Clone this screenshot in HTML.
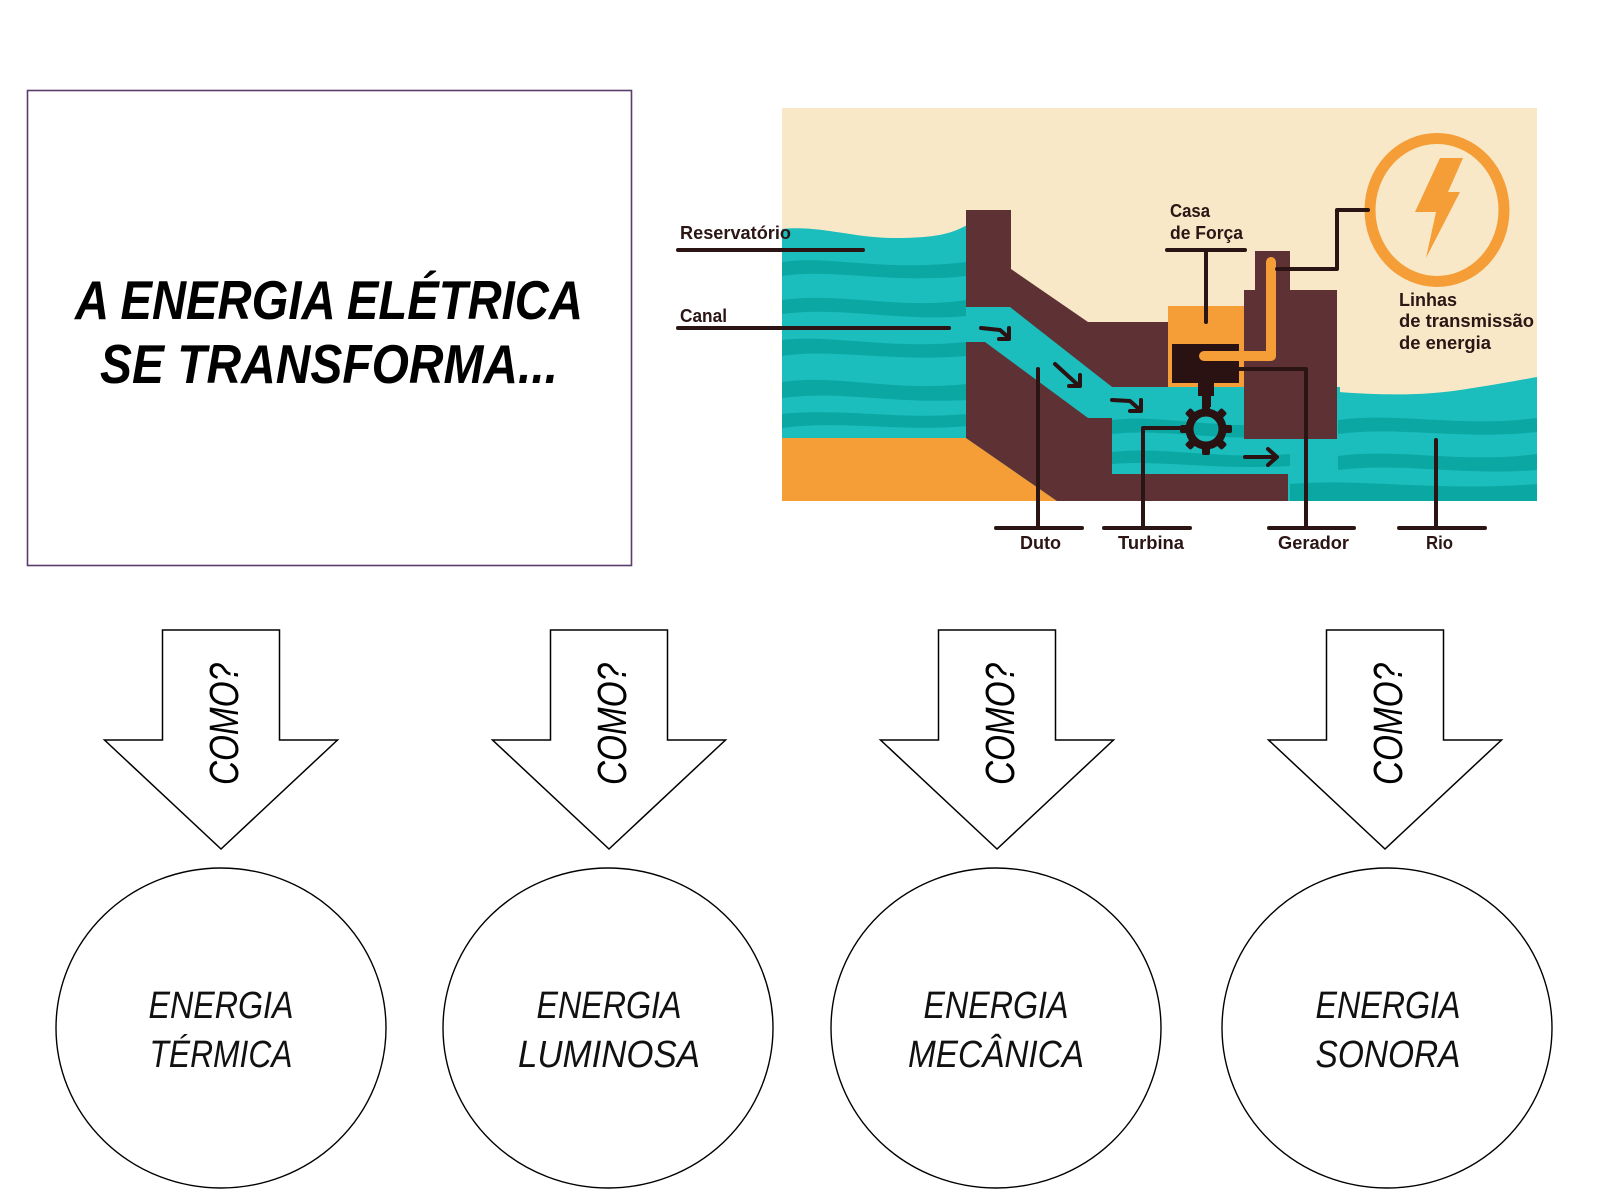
<!DOCTYPE html>
<html>
<head>
<meta charset="utf-8">
<style>
html,body{margin:0;padding:0;background:#fff;}
svg{display:block;}
.lbl{font-family:"Liberation Sans",sans-serif;font-weight:bold;font-size:18px;fill:#2b1515;}
.como{font-family:"Liberation Sans",sans-serif;font-style:italic;font-size:41px;fill:#000;}
.en{font-family:"Liberation Sans",sans-serif;font-style:italic;font-size:38px;fill:#111;}
.ttl{font-family:"Liberation Sans",sans-serif;font-style:italic;font-weight:bold;font-size:55px;fill:#000;}
</style>
</head>
<body>
<svg width="1600" height="1200" viewBox="0 0 1600 1200" xmlns="http://www.w3.org/2000/svg">
<rect x="0" y="0" width="1600" height="1200" fill="#fff"/>

<!-- Title box -->
<rect x="27.5" y="90.5" width="604" height="475" fill="#fff" stroke="#5b3d6b" stroke-width="1.6"/>
<text class="ttl" x="75" y="319" textLength="508" lengthAdjust="spacingAndGlyphs">A ENERGIA ELÉTRICA</text>
<text class="ttl" x="100" y="383" textLength="458" lengthAdjust="spacingAndGlyphs">SE TRANSFORMA...</text>

<!-- Illustration -->
<rect x="782" y="108" width="755" height="393" fill="#f8e8c7"/>
<!-- reservoir water -->
<path d="M782,229 C820,225 852,238 895,238 C930,238 950,235 967,225 L967,501 L782,501 Z" fill="#1bbdbd"/>
<g fill="#0ba7a3">
<path d="M782,262 C830,255 880,272 967,262 L967,276 C890,284 830,268 782,276 Z"/>
<path d="M782,300 C840,292 900,310 967,300 L967,316 C900,322 840,306 782,314 Z"/>
<path d="M782,340 C830,334 890,350 967,342 L967,356 C890,362 830,348 782,356 Z"/>
<path d="M782,382 C840,374 890,392 967,384 L967,400 C890,404 840,390 782,398 Z"/>
<path d="M782,414 C840,408 900,420 967,414 L967,426 C900,432 840,420 782,428 Z"/>
</g>
<!-- channel/middle water -->
<path d="M966,305 L1011,305 L1112,387 L1340,387 L1340,501 L966,501 Z" fill="#1bbdbd"/>
<g fill="#0ba7a3">
<path d="M1112,420 C1160,414 1220,430 1290,424 L1290,436 C1220,442 1160,428 1112,434 Z"/>
<path d="M1112,452 C1160,446 1220,460 1290,454 L1290,466 C1220,470 1160,460 1112,464 Z"/>
</g>
<!-- river -->
<path d="M1338,392 C1380,395 1420,396 1460,390 C1500,384 1520,380 1537,377 L1537,501 L1338,501 Z" fill="#1bbdbd"/>
<g fill="#0ba7a3">
<path d="M1338,420 C1400,412 1460,428 1537,418 L1537,432 C1460,440 1400,426 1338,434 Z"/>
<path d="M1338,456 C1400,448 1460,464 1537,454 L1537,470 C1460,476 1400,462 1338,470 Z"/>
<path d="M1290,484 C1360,478 1440,492 1537,484 L1537,501 L1290,501 Z"/>
</g>
<!-- orange ground -->
<path d="M782,438 L966,438 L1057,501 L782,501 Z" fill="#f59d36"/>
<!-- dam upper -->
<path d="M966,210 L1011,210 L1011,269 L1088,322 L1170,322 L1170,387 L1112,387 L1010,307 L966,307 Z" fill="#5e3234"/>
<!-- dam lower -->
<path d="M966,342 L985,342 L1088,418 L1112,418 L1112,474 L1288,474 L1288,501 L1057,501 L966,438 Z" fill="#5e3234"/>
<!-- power house orange -->
<rect x="1168" y="306" width="77" height="81" fill="#f59d36"/>
<!-- right building -->
<path d="M1255,251 L1290,251 L1290,290 L1337,290 L1337,439 L1244,439 L1244,290 L1255,290 Z" fill="#5e3234"/>
<!-- generator -->
<rect x="1172" y="344" width="67" height="39" fill="#2a1212"/>
<!-- pipe -->
<path d="M1204,356 L1271,356 L1271,262" fill="none" stroke="#f59d36" stroke-width="10" stroke-linecap="round" stroke-linejoin="round"/>
<!-- shaft -->
<rect x="1198" y="383" width="16" height="13" fill="#2a1212"/>
<rect x="1202" y="395" width="9" height="12" fill="#2a1212"/>
<!-- gear -->
<g transform="translate(1206,429)" fill="#2a1212">
<circle cx="0" cy="0" r="16.5" fill="none" stroke="#2a1212" stroke-width="8"/>
<g>
<rect x="-4" y="-26" width="8" height="9" rx="2"/>
<rect x="-4" y="17" width="8" height="9" rx="2"/>
<rect x="-26" y="-4" width="9" height="8" rx="2"/>
<rect x="17" y="-4" width="9" height="8" rx="2"/>
<rect x="-4" y="-26" width="8" height="9" rx="2" transform="rotate(45)"/>
<rect x="-4" y="-26" width="8" height="9" rx="2" transform="rotate(135)"/>
<rect x="-4" y="-26" width="8" height="9" rx="2" transform="rotate(225)"/>
<rect x="-4" y="-26" width="8" height="9" rx="2" transform="rotate(315)"/>
</g>
</g>
<!-- canal arrows -->
<g fill="none" stroke="#2a1212" stroke-width="4" stroke-linecap="round" stroke-linejoin="round">
<path d="M981,328 L1000,330 L1008,337"/>
<path d="M1009,328 L1009,339 L999,339"/>
<path d="M1055,364 L1078,385"/>
<path d="M1080,375 L1080,386 L1069,386"/>
<path d="M1112,400 L1130,401 L1139,409"/>
<path d="M1141,400 L1141,411 L1130,411"/>
<path d="M1245,457 L1276,457"/>
<path d="M1268,449 L1277,457 L1268,465"/>
</g>
<!-- orange ring + bolt -->
<ellipse cx="1437" cy="210" rx="67" ry="71.5" fill="none" stroke="#f59d36" stroke-width="11"/>
<path d="M1440,158 L1463,158 L1448,192 L1460,192 L1426,258 L1436,212 L1415,212 Z" fill="#f59d36"/>
<!-- leader lines -->
<g fill="none" stroke="#2a1414" stroke-width="4" stroke-linecap="round" stroke-linejoin="round">
<path d="M678,250 L863,250"/>
<path d="M678,328 L949,328"/>
<path d="M1167,250 L1245,250"/>
<path d="M1206,250 L1206,322"/>
<path d="M1277,269 L1337,269 L1337,210 L1368,210"/>
<path d="M1038,369 L1038,528"/>
<path d="M996,528 L1082,528"/>
<path d="M1180,428 L1143,428 L1143,528"/>
<path d="M1104,528 L1190,528"/>
<path d="M1239,369 L1306,369 L1306,528"/>
<path d="M1269,528 L1354,528"/>
<path d="M1436,440 L1436,528"/>
<path d="M1399,528 L1485,528"/>
</g>
<!-- labels -->
<text class="lbl" x="680" y="239" textLength="111" lengthAdjust="spacingAndGlyphs">Reservatório</text>
<text class="lbl" x="680" y="322" textLength="47" lengthAdjust="spacingAndGlyphs">Canal</text>
<text class="lbl" x="1170" y="217" textLength="40" lengthAdjust="spacingAndGlyphs">Casa</text>
<text class="lbl" x="1170" y="239" textLength="73" lengthAdjust="spacingAndGlyphs">de Força</text>
<text class="lbl" x="1399" y="306" textLength="58" lengthAdjust="spacingAndGlyphs">Linhas</text>
<text class="lbl" x="1399" y="327" textLength="135" lengthAdjust="spacingAndGlyphs">de transmissão</text>
<text class="lbl" x="1399" y="349" textLength="92" lengthAdjust="spacingAndGlyphs">de energia</text>
<text class="lbl" x="1020" y="549" textLength="41" lengthAdjust="spacingAndGlyphs">Duto</text>
<text class="lbl" x="1118" y="549" textLength="66" lengthAdjust="spacingAndGlyphs">Turbina</text>
<text class="lbl" x="1278" y="549" textLength="71" lengthAdjust="spacingAndGlyphs">Gerador</text>
<text class="lbl" x="1426" y="549" textLength="27" lengthAdjust="spacingAndGlyphs">Rio</text>

<!-- Arrows -->
<g fill="#fff" stroke="#000" stroke-width="1.5" stroke-linejoin="miter">
<polygon points="162.5,630 279.5,630 279.5,740 337.5,740 221,849 104.5,740 162.5,740"/>
<polygon points="550.5,630 667.5,630 667.5,740 725.5,740 609,849 492.5,740 550.5,740"/>
<polygon points="938.5,630 1055.5,630 1055.5,740 1113.5,740 997,849 880.5,740 938.5,740"/>
<polygon points="1326.5,630 1443.5,630 1443.5,740 1501.5,740 1385,849 1268.5,740 1326.5,740"/>
</g>
<text class="como" transform="translate(238,724) rotate(-90)" text-anchor="middle" textLength="122" lengthAdjust="spacingAndGlyphs">COMO?</text>
<text class="como" transform="translate(626,724) rotate(-90)" text-anchor="middle" textLength="122" lengthAdjust="spacingAndGlyphs">COMO?</text>
<text class="como" transform="translate(1014,724) rotate(-90)" text-anchor="middle" textLength="122" lengthAdjust="spacingAndGlyphs">COMO?</text>
<text class="como" transform="translate(1402,724) rotate(-90)" text-anchor="middle" textLength="122" lengthAdjust="spacingAndGlyphs">COMO?</text>

<!-- Ellipses -->
<g fill="#fff" stroke="#000" stroke-width="1.4">
<ellipse cx="221" cy="1028" rx="165" ry="160"/>
<ellipse cx="608" cy="1028" rx="165" ry="160"/>
<ellipse cx="996" cy="1028" rx="165" ry="160"/>
<ellipse cx="1387" cy="1028" rx="165" ry="160"/>
</g>
<text class="en" x="221" y="1018" text-anchor="middle" textLength="145" lengthAdjust="spacingAndGlyphs">ENERGIA</text>
<text class="en" x="221" y="1067" text-anchor="middle" textLength="143" lengthAdjust="spacingAndGlyphs">TÉRMICA</text>
<text class="en" x="609" y="1018" text-anchor="middle" textLength="145" lengthAdjust="spacingAndGlyphs">ENERGIA</text>
<text class="en" x="609" y="1067" text-anchor="middle" textLength="182" lengthAdjust="spacingAndGlyphs">LUMINOSA</text>
<text class="en" x="996" y="1018" text-anchor="middle" textLength="145" lengthAdjust="spacingAndGlyphs">ENERGIA</text>
<text class="en" x="996" y="1067" text-anchor="middle" textLength="176" lengthAdjust="spacingAndGlyphs">MECÂNICA</text>
<text class="en" x="1388" y="1018" text-anchor="middle" textLength="145" lengthAdjust="spacingAndGlyphs">ENERGIA</text>
<text class="en" x="1388" y="1067" text-anchor="middle" textLength="145" lengthAdjust="spacingAndGlyphs">SONORA</text>
</svg>
</body>
</html>
